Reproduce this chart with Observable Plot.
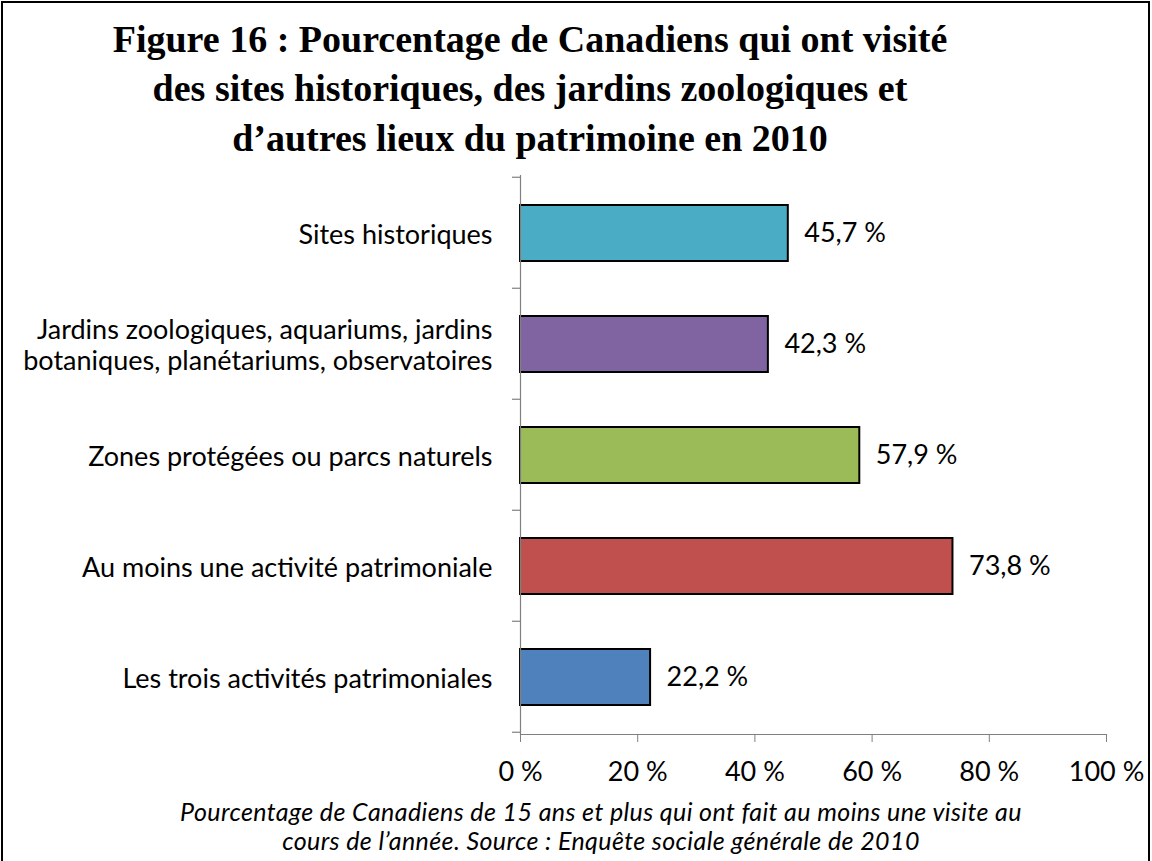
<!DOCTYPE html>
<html><head><meta charset="utf-8">
<script src="https://cdn.jsdelivr.net/npm/d3@7"></script>
<script src="https://cdn.jsdelivr.net/npm/@observablehq/plot@0.6"></script>
<style>
body{margin:0;background:#fff}
#wrap{position:relative;width:1152px;height:861px;overflow:hidden;background:#fff}
#frame{position:absolute;left:1px;top:1px;width:1145px;height:900px;border:2px solid #000;}
#title{position:absolute;left:0;width:1060px;top:14.5px;text-align:center;font:bold 38px "Liberation Serif";line-height:49.6px;color:#000;white-space:nowrap}
#plot{position:absolute;left:0;top:0}
#caption{position:absolute;left:0;width:1202px;top:797px;text-align:center;font:italic 25px Lato;letter-spacing:0.4px;line-height:29px;color:#000;white-space:nowrap}
</style></head>
<body>
<div id="wrap">
<div id="frame"></div>
<div id="plot"></div>
<div id="title">Figure 16 : Pourcentage de Canadiens qui ont visité<br>des sites historiques, des jardins zoologiques et<br>d’autres lieux du patrimoine en 2010</div>
<div id="caption">Pourcentage de Canadiens de 15 ans et plus qui ont fait au moins une visite au<br>cours de l’année. Source : Enquête sociale générale de 2010</div>
</div>
<script>
const categories = [
  "Sites historiques",
  "Jardins zoologiques, aquariums, jardins\nbotaniques, planétariums, observatoires",
  "Zones protégées ou parcs naturels",
  "Au moins une activité patrimoniale",
  "Les trois activités patrimoniales"
];
const values = [45.7, 42.3, 57.9, 73.8, 22.2];
const colors = ["#4BACC6", "#8064A2", "#9BBB59", "#C0504D", "#4F81BD"];
const xTicks = [0, 20, 40, 60, 80, 100];

const data = categories.map((c, i) => ({category: c, value: values[i], color: colors[i]}));
const fmt = v => v.toFixed(1).replace(".", ",") + " %";

function boundaryTicks(index, scales, values, dims) {
  const y = scales.y, x = scales.x;
  const step = y(categories[1]) - y(categories[0]);
  const ys = categories.map(c => y(c) - step * 0.25);
  ys.push(y(categories[categories.length - 1]) + step * 0.75);
  const x0 = x(0);
  const g = d3.create("svg:g").attr("stroke", "#808080").attr("stroke-width", 1.2);
  for (const yy of ys) g.append("line").attr("x1", x0 - 8).attr("x2", x0).attr("y1", yy).attr("y2", yy);
  return g.node();
}

const chart = Plot.plot({
  width: 1152, height: 861,
  marginLeft: 520, marginRight: 46, marginTop: 175, marginBottom: 127,
  style: {fontFamily: "Lato", fontSize: "27px", color: "#000", background: "transparent"},
  x: {domain: [0, 100], label: null},
  y: {domain: categories, paddingInner: 0.5, paddingOuter: 0.25, label: null},
  color: {type: "identity"},
  marks: [
    Plot.barX(data, {x: "value", y: "category", fill: "color", stroke: "#000", strokeWidth: 2}),
    Plot.text(data, {x: "value", y: "category", text: d => fmt(d.value), textAnchor: "start", dx: 16, fill: "#000", fontSize: 27}),
    Plot.axisY({tickSize: 0, tickPadding: 28, fontSize: 27, lineHeight: 1.16, label: null}),
    Plot.axisX({ticks: xTicks, tickFormat: d => d + " %", tickSize: 8, tickPadding: 19, fontSize: 27, stroke: "#808080", label: null}),
    Plot.ruleX([0], {stroke: "#808080", strokeWidth: 1.2}),
    Plot.frame({anchor: "bottom", stroke: "#808080", strokeWidth: 1.2}),
    boundaryTicks
  ]
});
document.getElementById("plot").appendChild(chart);
</script>
</body></html>
